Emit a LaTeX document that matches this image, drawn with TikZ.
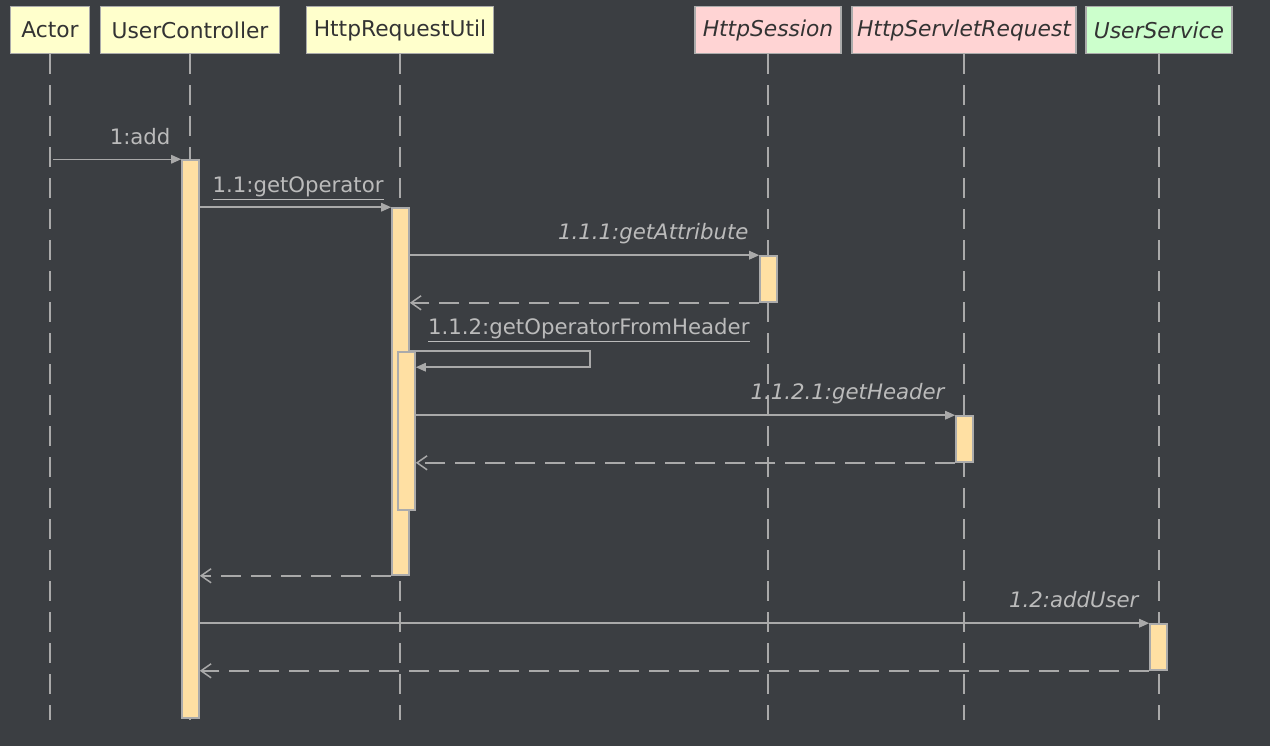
\documentclass[tikz,border=0pt]{standalone}
\usepackage{fontspec}
\setmainfont{DejaVu Sans}
\usetikzlibrary{arrows.meta}
\usetikzlibrary{calc,positioning}

\definecolor{bg}{HTML}{3B3E42}
\definecolor{wire}{HTML}{A9A9A9}
\definecolor{msgtext}{HTML}{BBBBBB}
\definecolor{boxline}{HTML}{ABABAB}
\definecolor{classfill}{HTML}{FFFFCC}
\definecolor{ifacefill}{HTML}{FFD4D4}
\definecolor{svcfill}{HTML}{CCFFCC}
\definecolor{actfill}{HTML}{FFE0A3}

\begin{document}
\begin{tikzpicture}[x=0.02cm,y=-0.02cm]
                \tikzstyle{every node}=[font=\fontsize{12.4}{14}\selectfont]
                \tikzstyle{head}=[draw=boxline,line width=0.9pt,minimum height=0.94cm,inner sep=0pt,text=black!80]
                \tikzstyle{bar}=[draw=boxline,fill=actfill,line width=0.9pt,minimum width=0.34cm,inner sep=0pt]
                \tikzstyle{lifeline}=[wire,line width=0.85pt,dash pattern=on 0.4cm off 0.22cm]
                \tikzstyle{call}=[wire,line width=0.85pt,-{Triangle[length=0.2cm,width=0.17cm]}]
                \tikzstyle{reply}=[wire,line width=0.85pt,dash pattern=on 0.4cm off 0.2cm,-{Straight Barb[length=0.2cm,width=0.28cm]}]
                \tikzstyle{msg}=[text=msgtext,inner sep=0pt,font=\fontsize{12.1}{14}\selectfont]
                \fill[bg] (0,0) rectangle (1270,746);
                % heads
                \node[head,fill=classfill,minimum width=1.58cm] (actor) at (50,30) {Actor};
                \node[head,fill=classfill,minimum width=3.58cm] (uc) at (190,30) {UserController};
                \node[head,fill=classfill,minimum width=3.74cm] (hru) at (400,30) {HttpRequestUtil};
                \node[head,fill=ifacefill,minimum width=2.92cm] (ses) at (768,30) {\itshape HttpSession};
                \node[head,fill=ifacefill,minimum width=4.48cm] (req) at (964,30) {\itshape HttpServletRequest};
                \node[head,fill=svcfill,minimum width=2.92cm] (svc) at (1159,30) {\itshape UserService};
                % lifelines
                \coordinate (floor) at (0,720);
                \foreach \p in {actor,uc,hru,ses,req,svc}
                    \draw[lifeline] (\p.south) -- (\p.south |- floor);
                % activations
                \node[bar,minimum height=11.16cm] (ucAct) at (190.5,439) {};
                \node[bar,minimum height=7.34cm] (hruAct) at (400.5,391.5) {};
                \node[bar,minimum height=0.92cm] (sesAct) at (768.5,279) {};
                \node[bar,minimum height=3.16cm] (subAct) at (406.5,431) {};
                \node[bar,minimum height=0.92cm] (reqAct) at (964.5,439) {};
                \node[bar,minimum height=0.92cm] (svcAct) at (1158.5,647) {};
                % messages
                \draw[call] ($(actor.south |- ucAct.north)+(3,0)$) -- (ucAct.north west)
                    node[msg,pos=1,anchor=base east,xshift=-0.2cm,yshift=0.3cm] (addLbl) {1:add};
                \draw[call] (ucAct.north east |- hruAct.north) -- (hruAct.north west)
                    node[msg,pos=0,anchor=base west,xshift=0.24cm,yshift=0.3cm] (getOpLbl) {\underline{1.1:getOperator}};
                \draw[call] (hruAct.east |- sesAct.north) -- (sesAct.north west)
                    node[msg,pos=1,anchor=base east,xshift=-0.2cm,yshift=0.32cm] (getAttrLbl) {\itshape 1.1.1:getAttribute};
                \draw[reply] (sesAct.south west) -- (hruAct.east |- sesAct.south);
                \draw[call] (hruAct.east |- subAct.north) -- ++(180,0) -- ++(0,16) -- ($(subAct.north east)+(0,16)$);
                \node[msg,anchor=base west,xshift=0.36cm,yshift=0.34cm] (fromHeaderLbl) at (hruAct.east |- subAct.north) {\underline{1.1.2:getOperatorFromHeader}};
                \draw[call] (subAct.east |- reqAct.north) -- (reqAct.north west)
                    node[msg,pos=1,anchor=base east,xshift=-0.2cm,yshift=0.32cm] (getHeaderLbl) {\itshape 1.1.2.1:getHeader};
                \draw[reply] (reqAct.south west) -- (subAct.east |- reqAct.south);
                \draw[reply] (hruAct.south west) -- (ucAct.east |- hruAct.south);
                \draw[call] (ucAct.east |- svcAct.north) -- (svcAct.north west)
                    node[msg,pos=1,anchor=base east,xshift=-0.2cm,yshift=0.32cm] (addUserLbl) {\itshape 1.2:addUser};
                \draw[reply] (svcAct.south west) -- (ucAct.east |- svcAct.south);
            \end{tikzpicture}
\end{document}
